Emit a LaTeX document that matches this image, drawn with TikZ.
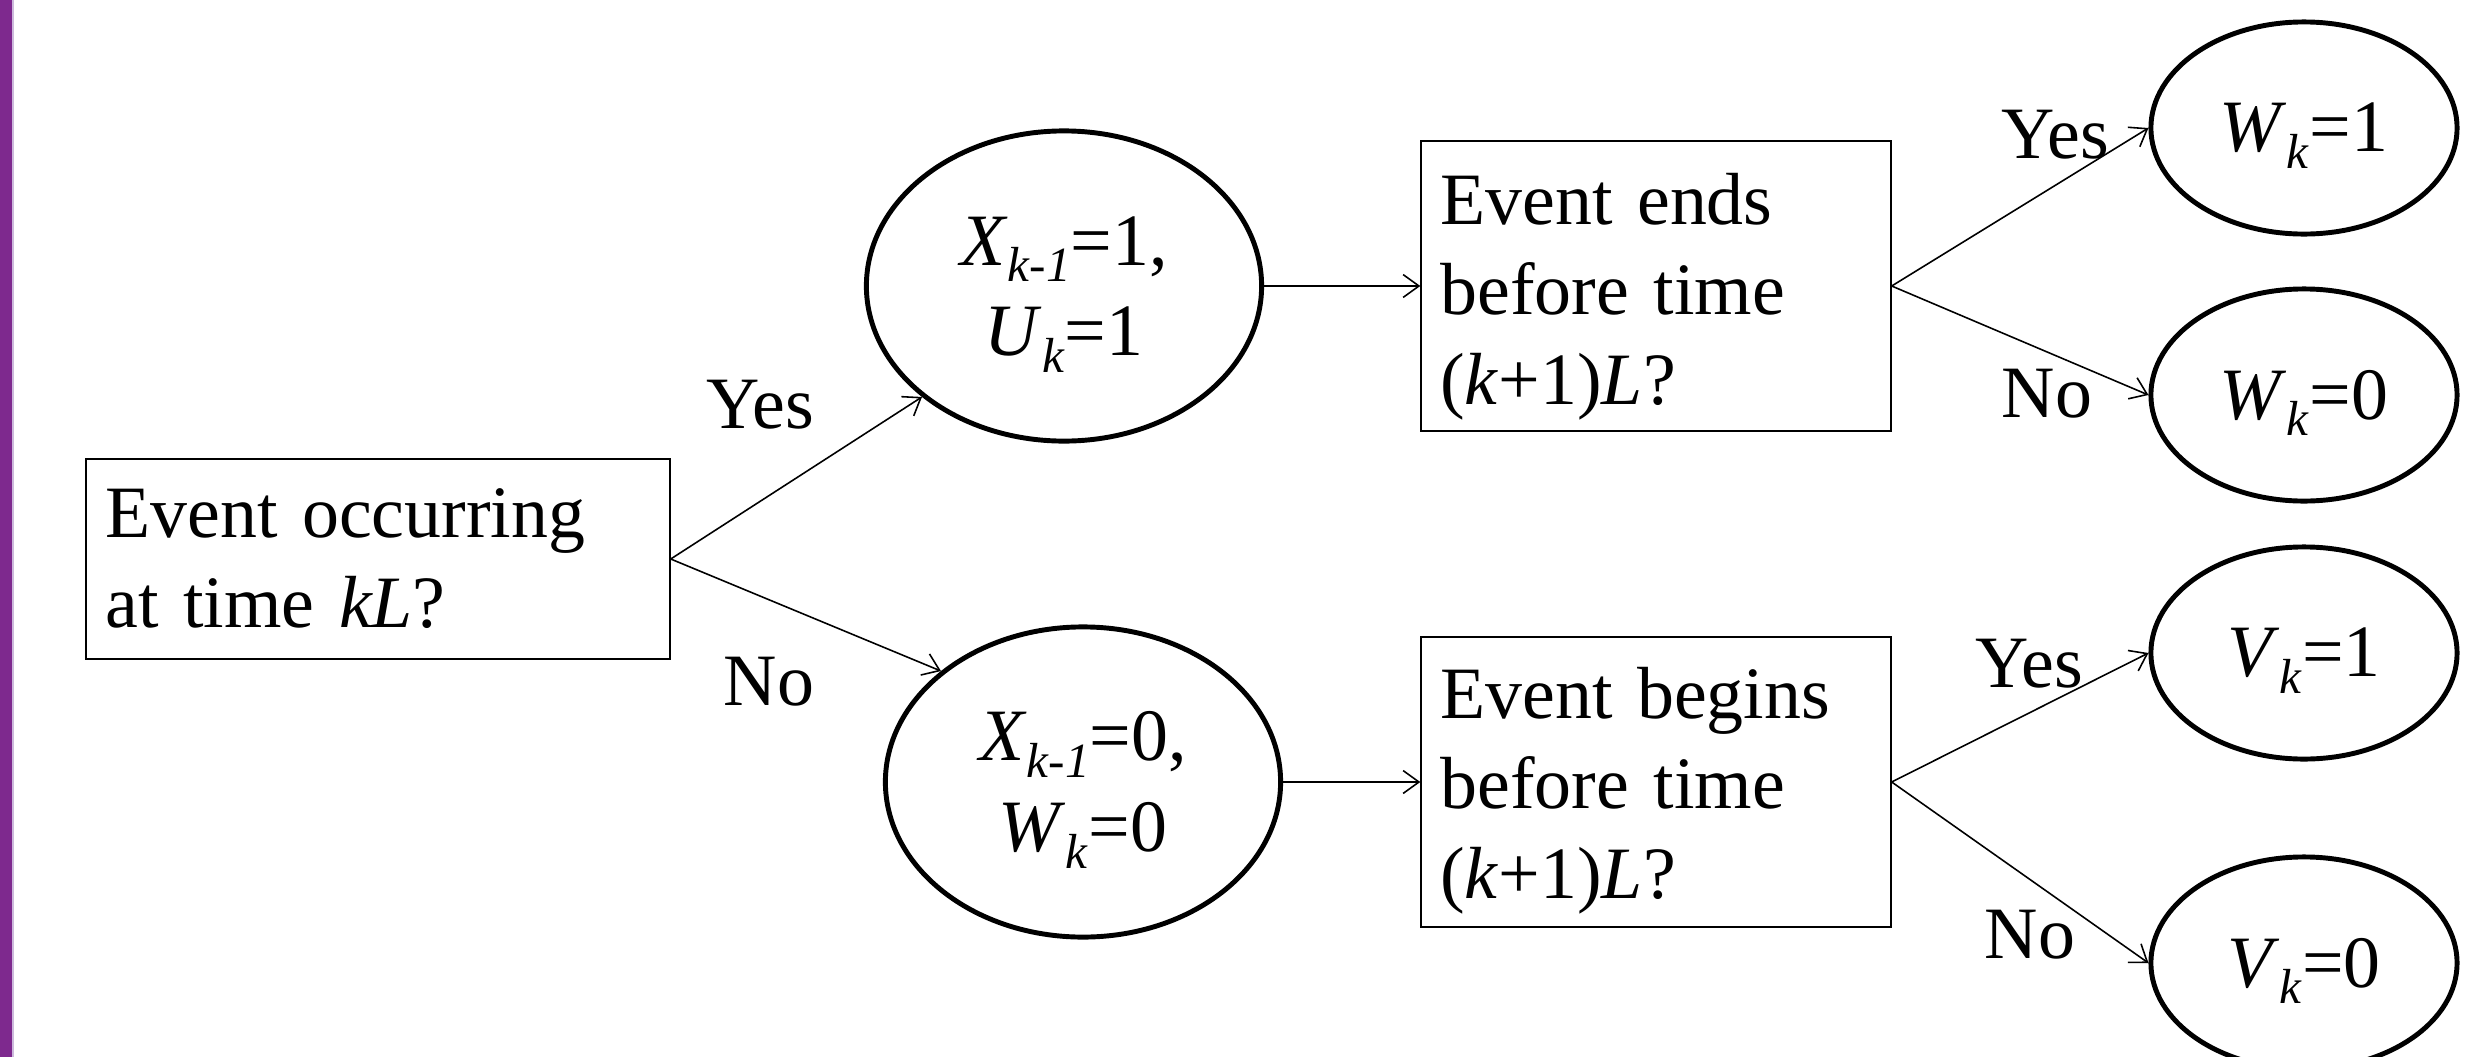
\documentclass[tikz,border=0pt]{standalone}
\usepackage{fontspec}
\setmainfont{Liberation Serif}
\usetikzlibrary{arrows.meta,shapes.geometric}
\definecolor{barpurple}{RGB}{126,41,142}
\definecolor{barlight}{RGB}{205,185,220}
\newcommand{\sub}[1]{\raisebox{-0.23em}[0pt][0pt]{\fontsize{14}{14}\selectfont\textit{#1}}}
\begin{document}
\begin{tikzpicture}[x=0.01cm,y=-0.01cm,
  every node/.style={font=\fontsize{21}{25.6}\selectfont},
  qbox/.style={draw, line width=0.6pt, rectangle, align=left,
    inner xsep=0.19cm, inner ysep=0pt, text width=#1},
  oval/.style={draw, ellipse, line width=1.4pt, inner sep=0pt, align=center},
  bigoval/.style={oval, minimum width=3.95cm, minimum height=3.1cm},
  smalloval/.style={oval, minimum width=3.06cm, minimum height=2.12cm},
  conn/.style={line width=0.45pt, -{Straight Barb[length=4.5pt,width=6.5pt]}},
  lbl/.style={anchor=base west, inner sep=0pt}]
\useasboundingbox (0,0) rectangle (2471,1057);
\fill[barpurple] (0,0) rectangle (12,1057);
\fill[barlight] (12,0) rectangle (14,1057);

\node[qbox=5.45cm, minimum height=2cm] (A) at (378,559)
  {Event occurring\\at time \textit{kL}?};
\node[bigoval] (E1) at (1064,286) {\textit{X}\sub{k-1}=1,\\\textit{U}\sub{k}=1};
\node[bigoval] (E2) at (1083,782) {\textit{X}\sub{k-1}=0,\\\textit{W}\sub{k}=0};
\node[qbox=4.31cm, minimum height=2.9cm] (B) at (1656,286)
  {\rule{0pt}{0.72cm}Event ends\\before time\\(\textit{k}+1)\textit{L}?};
\node[qbox=4.31cm, minimum height=2.9cm] (C) at (1656,782)
  {\rule{0pt}{0.68cm}Event begins\\before time\\(\textit{k}+1)\textit{L}?};
\node[smalloval] (W1) at (2304,128) {\textit{W}\sub{k}=1};
\node[smalloval] (W0) at (2304,395) {\textit{W}\sub{k}=0};
\node[smalloval] (V1) at (2304,653) {\textit{V}\sub{k}=1};
\node[smalloval] (V0) at (2304,963) {\textit{V}\sub{k}=0};

\node[lbl] (yes1) at (706,428) {Yes};
\node[lbl] (no1) at (723,705) {No};
\node[lbl] (yes2) at (2001,158) {Yes};
\node[lbl] (no2) at (2001,417) {No};
\node[lbl] (yes3) at (1975,687) {Yes};
\node[lbl] (no3) at (1984,958) {No};

\draw[conn] (A.east) -- (E1.218);
\draw[conn] (A.east) -- (E2.142);
\draw[conn] (E1.east) -- (B.west);
\draw[conn] (E2.east) -- (C.west);
\draw[conn] (B.east) -- (W1.west);
\draw[conn] (B.east) -- (W0.west);
\draw[conn] (C.east) -- (V1.west);
\draw[conn] (C.east) -- (V0.west);
\end{tikzpicture}
\end{document}
